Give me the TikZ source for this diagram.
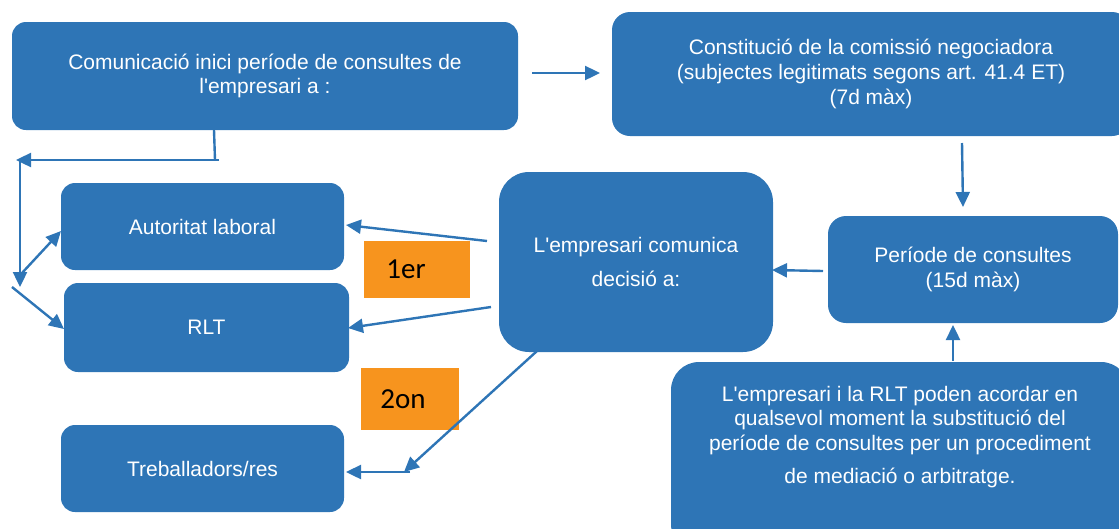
\documentclass[tikz,border=0pt]{standalone}
\usepackage{fontspec}
\setmainfont{Liberation Sans}
\newfontfamily\calib{Carlito}
\usetikzlibrary{arrows.meta}
\definecolor{bl}{HTML}{2E75B6}
\definecolor{orng}{HTML}{F7941E}
\newcommand{\ap}{\textquotesingle}
\tikzset{
  box/.style={fill=bl, draw=none, rounded corners=#1, text=white, align=center, inner sep=0pt,
    font=\fontsize{21}{24.5}\selectfont},
  box/.default=14pt,
  tag/.style={fill=orng, draw=none, text=black, inner sep=0pt, font=\calib\fontsize{29}{32}\selectfont},
  conn/.style={draw=bl, line width=2.4pt},
  arr/.style={conn, -{Triangle[length=15pt,width=14pt]}},
}
\begin{document}
\begin{tikzpicture}[x=1pt,y=-1pt]
\useasboundingbox (0,0) rectangle (1119,528);
\clip (0,0) rectangle (1119,528);
% boxes
\node[box, minimum width=506, minimum height=108] (ini) at (265,76)
  {Comunicació inici període de consultes de\\l\ap empresari a :};
\node[box=18pt, minimum width=518, minimum height=124, font=\fontsize{21}{25}\selectfont] (con) at (871,74)
  {Constitució de la comissió negociadora\\(subjectes legitimats segons art. 41.4 ET)\\(7d màx)};
\node[box, minimum width=283, minimum height=87] (aut) at (202.5,226.5) {Autoritat laboral};
\node[box, minimum width=285, minimum height=89] (rlt) at (206.5,327.5) {RLT};
\node[box, minimum width=283, minimum height=87] (tre) at (202.5,468.5) {Treballadors/res};
\node[box=30pt, minimum width=274, minimum height=180] (dec) at (636,262)
  {L\ap empresari comunica\\[10pt]decisió a:};
\node[box=18pt, minimum width=290, minimum height=107] (per) at (973,269.5)
  {Període de consultes\\(15d màx)};
\node[box=28pt, minimum width=458, minimum height=190] (agr) at (900,457) {};
\node[text=white, align=center, inner sep=0pt, font=\fontsize{21}{24.5}\selectfont] (agrtxt) at (900,437)
  {L\ap empresari i la RLT poden acordar en\\qualsevol moment la substitució del\\període de consultes per un procediment\\[9pt]de mediació o arbitratge.};
% tags
\node[tag, minimum width=106, minimum height=57] (t1) at (417,269.5) {\hspace*{-22pt}1er};
\node[tag, minimum width=98, minimum height=62] (t2) at (410,399) {\hspace*{-14pt}2on};
% coordinates
\coordinate (a1) at (532,73);
\coordinate (a2) at (600,73);
\coordinate (b1) at (962,143);
\coordinate (b2) at (963,207);
\coordinate (c1) at (953,361);
\coordinate (c2) at (953,325);
\coordinate (d1) at (823,271);
\coordinate (d2) at (772,270);
\coordinate (e1) at (487,241);
\coordinate (e2) at (346,225);
\coordinate (f1) at (491,307);
\coordinate (f2) at (348,328);
\coordinate (g1) at (537,351);
\coordinate (g2) at (404,472);
\coordinate (g3) at (410,472);
\coordinate (g4) at (346,472);
\coordinate (h1) at (214,130);
\coordinate (h2) at (215,160);
\coordinate (h3) at (219,160);
\coordinate (h4) at (16,160);
\coordinate (i1) at (20,160);
\coordinate (i2) at (20,287);
\coordinate (j1) at (22,273);
\coordinate (j2) at (61,231);
\coordinate (k1) at (12,287);
\coordinate (k2) at (64,329);
% connectors
\draw[arr] (a1) -- (a2);
\draw[arr] (b1) -- (b2);
\draw[arr] (c1) -- (c2);
\draw[arr] (d1) -- (d2);
\draw[arr] (e1) -- (e2);
\draw[arr] (f1) -- (f2);
\draw[arr] (g1) -- (g2);
\draw[arr] (g3) -- (g4);
\draw[conn] (h1) -- (h2);
\draw[arr] (h3) -- (h4);
\draw[arr] (i1) -- (i2);
\draw[arr] (j1) -- (j2);
\draw[arr] (k1) -- (k2);
\end{tikzpicture}
\end{document}
